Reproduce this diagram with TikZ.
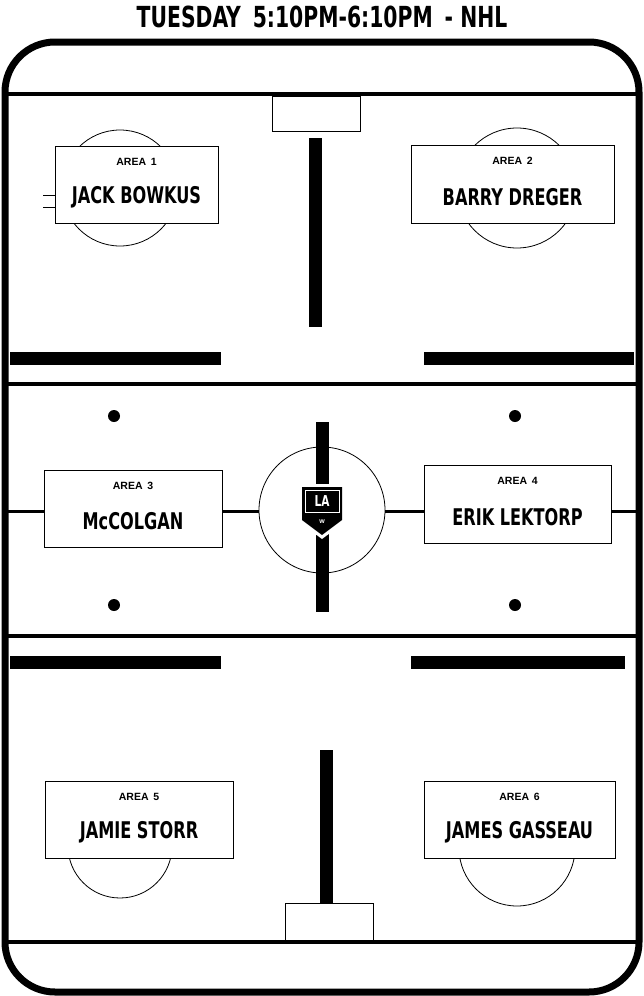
\documentclass[tikz,border=0pt]{standalone}
\usepackage{fontspec}
\setmainfont{Liberation Sans}
\newfontfamily\cond{DejaVu Sans Condensed}[FakeStretch=0.78]
\begin{document}
\begin{tikzpicture}[x=1pt,y=-1pt,
 lbl/.style={draw,line width=0.8pt,fill=white,inner sep=0pt},
 bar/.style={fill=black},
 dot/.style={circle,fill=black,inner sep=0pt,minimum size=12pt},
 face/.style={line width=0.8pt}]
\useasboundingbox (0,0) rectangle (644,996);
\fill[white] (0,0) rectangle (644,996);
\node[font=\cond\bfseries\fontsize{29}{30}\selectfont] (title) at (322,17) {TUESDAY\, 5:10PM-6:10PM\, - NHL};
% rink
\draw[line width=7pt,rounded corners=50pt] (5,42) rectangle (639,992);
\foreach \y in {94,384,636,942} \draw[line width=4pt] (8,\y) -- (636,\y);
% faceoff circles
\draw[face] (120,188) circle (58);
\draw[face] (517,188) circle (60);
\draw[face] (120,846) circle (52);
\draw[face] (517,848) circle (58);
% center line
\draw[line width=3pt] (8,511) -- (636,511);
\draw[face,fill=white] (322,510) circle (63);
% bars
\fill[bar] (309,138) rectangle (322,327);
\fill[bar] (10,352) rectangle (221,365);
\fill[bar] (424,352) rectangle (634,365);
\fill[bar] (316,422) rectangle (329,612);
\fill[bar] (10,656) rectangle (221,669);
\fill[bar] (411,656) rectangle (625,669);
\fill[bar] (320,750) rectangle (333,942);
% goals
\draw[face,fill=white] (272,96) rectangle (360,131);
\draw[face,fill=white] (285,903) rectangle (373,940);
% dots
\node[dot] (d1) at (114,416) {};
\node[dot] (d2) at (515,416) {};
\node[dot] (d3) at (114,605) {};
\node[dot] (d4) at (515,605) {};
% ticks
\draw[face] (43,195) -- (55,195) (43,207) -- (55,207);
% logo
\begin{scope}[shift={(322,510)}]
\fill[white] (-23,-26) -- (23,-26) -- (23,12) -- (0,29) -- (-23,12) -- cycle;
\fill[black] (-20,-23) -- (20,-23) -- (20,10) -- (0,25) -- (-20,10) -- cycle;
\draw[white,line width=0.8pt] (-17,-20) rectangle (17,2);
\node[white,font=\cond\bfseries\fontsize{15}{15}\selectfont] (la) at (0,-9) {LA};
\node[white,font=\fontsize{7}{7}\selectfont] (cr) at (0,12) {\textbf{w}};
\end{scope}
% label boxes
\newcommand\areabox[7]{%
 \node[lbl,minimum width=#3pt,minimum height=#4pt] (#5) at (#1,#2) {};
 \node[font=\bfseries\fontsize{10.5}{12}\selectfont] at ([yshift=-16pt]#5.north) {#6};
 \node[font=\cond\bfseries\fontsize{23}{24}\selectfont] at ([yshift=-13pt]#5.center) {#7};}
\areabox{136.5}{184.5}{163}{77}{a1}{AREA\, 1}{JACK BOWKUS}
\areabox{512.5}{184}{203}{78}{a2}{AREA\, 2}{BARRY DREGER}
\areabox{133}{508.5}{178}{77}{a3}{AREA\, 3}{McCOLGAN}
\areabox{517.5}{504}{187}{78}{a4}{AREA\, 4}{ERIK LEKTORP}
\areabox{139}{819.5}{188}{77}{a5}{AREA\, 5}{JAMIE STORR}
\areabox{519.5}{819.5}{191}{77}{a6}{AREA\, 6}{JAMES GASSEAU}
\end{tikzpicture}
\end{document}
